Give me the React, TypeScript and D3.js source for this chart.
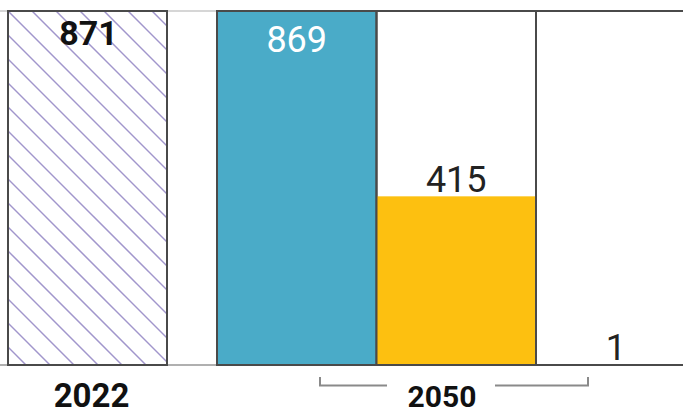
import React from "react";
import * as d3 from "d3";

// Reference year total and the 2050 scenario values
const baseYear = "2022";
const baseValue = 871;
const scenarioKeys = ["s1", "s2", "s3"];
const scenarioValues = [869, 415, 1];
const scenarioColors = ["#4aabc8", "#fdc010", "#3e6b45"];
const scenarioLabelColors = ["#ffffff", "#222222", "#222222"];
const groupLabel = "2050";

const W = 683;
const H = 411;
const BASE_Y = 365;
const TOP_Y = 11;

export default function App() {
  const y = d3.scaleLinear().domain([0, baseValue]).range([BASE_Y, TOP_Y]);
  const x = d3
    .scaleBand<string>()
    .domain(scenarioKeys)
    .range([217, 217 + 3 * 159.5])
    .paddingInner(0)
    .paddingOuter(0);
  const bw = x.bandwidth();
  const baseX = 8;
  const baseW = 159;

  const hatchLines = d3.range(-20, 20).map((i) => i * 24);

  return (
    <svg
      width={W}
      height={H}
      style={{ position: "absolute", left: 0, top: 0, background: "#fff" }}
      fontFamily="Roboto, 'Liberation Sans', Arial, sans-serif"
    >
      <defs>
        <clipPath id="baseClip">
          <rect x={baseX} y={y(baseValue)} width={baseW} height={BASE_Y - y(baseValue)} />
        </clipPath>
      </defs>

      {/* faint frame lines spanning the plot */}
      <line x1={0} x2={W} y1={TOP_Y} y2={TOP_Y} stroke="#c8c8c8" strokeWidth={1.5} />
      <line x1={0} x2={W} y1={BASE_Y} y2={BASE_Y} stroke="#b0b0b0" strokeWidth={2} />

      {/* 2022 hatched bar */}
      <g clipPath="url(#baseClip)">
        {hatchLines.map((o, i) => (
          <line
            key={i}
            x1={baseX + o}
            y1={y(baseValue)}
            x2={baseX + o + (BASE_Y - y(baseValue))}
            y2={BASE_Y}
            stroke="#a196cc"
            strokeWidth={1.5}
          />
        ))}
      </g>
      <rect
        x={baseX}
        y={y(baseValue)}
        width={baseW}
        height={BASE_Y - y(baseValue)}
        fill="none"
        stroke="#4a4a4a"
        strokeWidth={2}
      />
      <text
        x={baseX + baseW / 2 + 1}
        y={45}
        textAnchor="middle"
        fontSize={34}
        fontWeight="bold"
        fill="#111"
      >
        {baseValue}
      </text>

      {/* 2050 scenario bars, each inside a box sized to the 2022 total */}
      {scenarioKeys.map((k, i) => {
        const v = scenarioValues[i];
        const x0 = x(k)!;
        const top = y(v);
        const inside = v / baseValue > 0.9;
        return (
          <g key={k}>
            <rect
              x={x0}
              y={top}
              width={bw}
              height={Math.max(BASE_Y - top, 1)}
              fill={scenarioColors[i]}
            />
            <rect
              x={x0}
              y={y(baseValue)}
              width={bw}
              height={BASE_Y - y(baseValue)}
              fill="none"
              stroke="#4a4a4a"
              strokeWidth={2}
            />
            <text
              x={x0 + bw / 2}
              y={inside ? top + 40 : top - 4.5}
              textAnchor="middle"
              fontSize={36}
              fill={scenarioLabelColors[i]}
            >
              {v}
            </text>
          </g>
        );
      })}

      {/* category labels */}
      <text
        x={baseX + baseW / 2 + 4}
        y={407}
        textAnchor="middle"
        fontSize={33}
        fontWeight="bold"
        fill="#111"
      >
        {baseYear}
      </text>
      <path
        d="M320,377 V385.5 H387 M495,385.5 H588 V377"
        fill="none"
        stroke="#8a8a8a"
        strokeWidth={2}
      />
      <text x={442} y={407} textAnchor="middle" fontSize={30} fontWeight="bold" fill="#111">
        {groupLabel}
      </text>
    </svg>
  );
}
